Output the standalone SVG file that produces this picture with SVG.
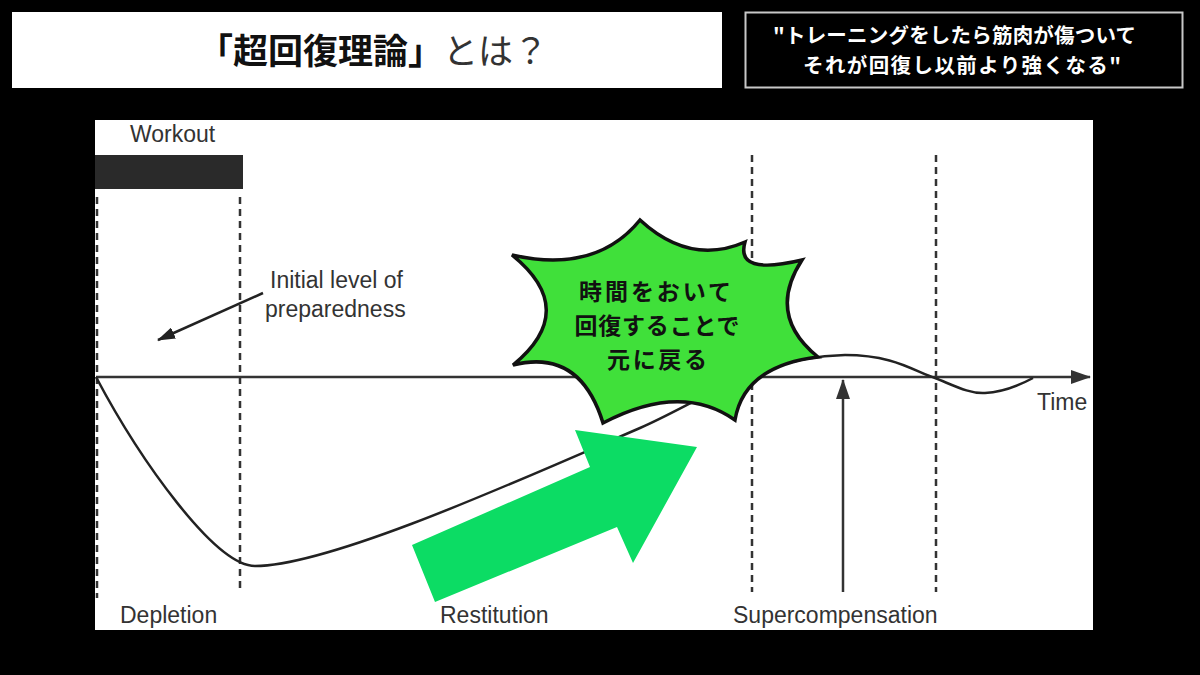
<svg xmlns="http://www.w3.org/2000/svg" width="1200" height="675" viewBox="0 0 1200 675">
<style>
.lbl{font-family:"Liberation Sans",Arial,sans-serif;font-size:23px;fill:#333}
.jp{font-family:"Noto Sans CJK JP","Noto Sans",sans-serif}
.dash{stroke:#333;stroke-width:2.5;stroke-dasharray:7 5;fill:none}
.ln{stroke:#222;stroke-width:2.5;fill:none}
.bt{font-size:23px;font-weight:700;fill:#111}
</style>
<defs>
<marker id="ah" markerWidth="18" markerHeight="12" refX="17" refY="6" orient="auto" markerUnits="userSpaceOnUse" viewBox="0 0 18 12">
<path d="M0,0 L18,6 L0,12 z" fill="#222"/>
</marker>
<marker id="ahBig" markerWidth="20" markerHeight="14" refX="19" refY="7" orient="auto" markerUnits="userSpaceOnUse" viewBox="0 0 20 14">
<path d="M0,0 L20,7 L0,14 z" fill="#333"/>
</marker>
</defs>
<rect width="1200" height="675" fill="#000"/>
<g id="title">
<rect x="12" y="12" width="710" height="76" fill="#fff"/>
<text x="198" y="64" class="jp" font-size="35" textLength="350" lengthAdjust="spacing"><tspan font-weight="700" fill="#111">「超回復理論」</tspan><tspan font-weight="400" fill="#333">とは？</tspan></text>
</g>
<g id="quote">
<rect x="745.5" y="12.5" width="437" height="75" fill="#000" stroke="#c8c8c8" stroke-width="2"/>
<text x="773" y="43" class="jp" font-size="20.5" font-weight="700" fill="#fff" textLength="363" lengthAdjust="spacing">"トレーニングをしたら筋肉が傷ついて</text>
<text x="803" y="73" class="jp" font-size="20.5" font-weight="700" fill="#fff" textLength="318" lengthAdjust="spacing">それが回復し以前より強くなる"</text>
</g>
<g id="panel">
<rect x="95" y="120" width="998" height="510" fill="#fff"/>
</g>
<g id="workout">
<rect x="95" y="155" width="148" height="34" fill="#2a2a2a"/>
<text x="130" y="142" class="lbl">Workout</text>
</g>
<g id="connectors">
<line class="dash" x1="97" y1="197" x2="97" y2="598"/>
<line class="dash" x1="240" y1="197" x2="240" y2="592"/>
<line class="dash" x1="752" y1="155" x2="752" y2="592"/>
<line class="dash" x1="936" y1="155" x2="936" y2="592"/>
<line x1="96" y1="377" x2="1090" y2="377" stroke="#333" stroke-width="2.5" marker-end="url(#ahBig)"/>
<path class="ln" d="M96,377 C140,460 215,566 255,566 C330,566 520,480 640,428 C700,402 760,356 845,355 C895,355 915,372 935,378 C955,386 970,394 985,393 C1005,392 1020,385 1033,378"/>
<line x1="263" y1="293" x2="158" y2="340" stroke="#222" stroke-width="2.5" marker-end="url(#ah)"/>
<line x1="843" y1="592" x2="843" y2="380" stroke="#333" stroke-width="2.5" marker-end="url(#ahBig)"/>
</g>
<g id="labels">
<text x="270" y="288" class="lbl">Initial level of</text>
<text x="265" y="317" class="lbl">preparedness</text>
<text x="1037" y="410" class="lbl">Time</text>
<text x="120" y="623" class="lbl">Depletion</text>
<text x="440" y="623" class="lbl">Restitution</text>
<text x="733" y="623" class="lbl">Supercompensation</text>
</g>
<g id="green-arrow">
<polygon points="412,545 435,602 617,527 633,563 697,447 575,430 590,467" fill="#0cdc64"/>
</g>
<g id="burst">
<path d="M640,220 Q690,266 745,242 Q735,276 802,260 Q766,315 818,357 Q744,366 735,420 Q681,382 603,423 Q580,348 513,365 Q580,310 512,255 Q596,274 640,220 Z" fill="#40e03a" stroke="#111" stroke-width="3.5" stroke-linejoin="miter"/>
<text x="655" y="300" text-anchor="middle" class="jp bt" textLength="152" lengthAdjust="spacing">時間をおいて</text>
<text x="657" y="334" text-anchor="middle" class="jp bt" textLength="165" lengthAdjust="spacing">回復することで</text>
<text x="657" y="368" text-anchor="middle" class="jp bt" textLength="100" lengthAdjust="spacing">元に戻る</text>
</g>
</svg>
